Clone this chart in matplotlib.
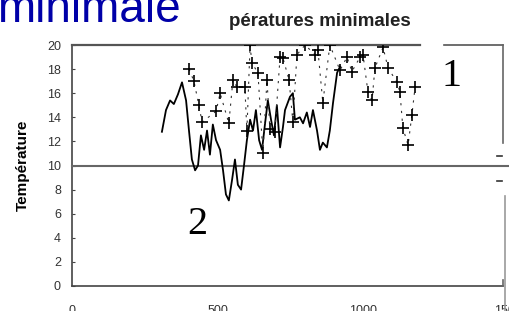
import numpy as np
import matplotlib
matplotlib.use('Agg')
import matplotlib.pyplot as plt

# solid series (jour, temperature)
line_x = [309, 323, 337, 350, 364, 378, 392, 402, 412, 423, 433, 443, 454, 464, 474, 484,
          495, 509, 519, 529, 539, 550, 560, 570, 581, 591, 601, 612, 622, 632, 643, 653,
          663, 673, 684, 694, 704, 715, 725, 732, 749, 759, 766, 783, 794, 807, 818, 828,
          842, 852, 862, 876, 886, 897, 911, 921]
line_y = [12.8, 14.6, 15.4, 15.1, 15.9, 16.9, 15.4, 12.9, 10.5, 9.6, 10.0, 12.5, 11.3, 12.9,
          10.9, 13.4, 12.1, 11.3, 9.6, 7.6, 7.1, 8.8, 10.5, 8.4, 8.0, 10.0, 12.1, 13.8, 12.9,
          14.6, 12.1, 11.3, 13.4, 15.4, 13.8, 12.5, 15.0, 11.5, 13.2, 14.6, 15.7, 16.0, 13.8,
          14.0, 13.5, 14.4, 13.2, 14.6, 12.9, 11.3, 11.9, 11.5, 12.9, 15.2, 17.7, 18.2]

# "+" series
plus_x = [402, 419, 436, 447, 495, 509, 539, 553, 567, 594, 601, 612, 618, 639, 656, 670,
          680, 697, 715, 725, 746, 759, 773, 801, 835, 845, 862, 886, 921, 945, 962, 990,
          1000, 1017, 1031, 1041, 1069, 1086, 1117, 1127, 1137, 1155, 1168, 1179]
plus_y = [18.0, 17.0, 15.0, 13.6, 14.5, 16.0, 13.5, 17.1, 16.5, 16.5, 12.9, 20.0, 18.5, 17.7,
          11.0, 17.1, 13.0, 12.8, 19.0, 18.9, 17.1, 13.6, 19.2, 20.0, 19.2, 19.6, 15.2, 20.0,
          17.9, 19.0, 17.8, 19.0, 19.2, 16.1, 15.4, 18.1, 19.8, 18.1, 16.9, 16.1, 13.1, 11.7,
          14.2, 16.5]

yticks = list(range(0, 21, 2))
xticks = [0, 500, 1000, 1500]

fig = plt.figure(figsize=(5.1, 3.11), dpi=100)
ax = fig.add_axes([72 / 510, 25 / 311, 436.5 / 510, 241 / 311])
ax.set_xlim(0, 1500)
ax.set_ylim(0, 20)
for s in ax.spines.values():
    s.set_visible(False)
ax.patch.set_alpha(0)

# frame pieces (scanned figure, partly broken)
ax.plot([0, 0], [0, 20], color='#444', lw=1.2, clip_on=False)
ax.plot([0, 1196], [20, 20], color='#555', lw=1.6, clip_on=False)
ax.plot([1278, 1481], [20, 20], color='#555', lw=1.2, clip_on=False)
ax.plot([1481, 1481], [20, 11.9], color='#666', lw=1.2, clip_on=False)
ax.plot([1460, 1478], [10.8, 10.8], color='#333', lw=1.2, clip_on=False)
ax.plot([1460, 1478], [8.7, 8.7], color='#333', lw=1.2, clip_on=False)
ax.plot([1488, 1488], [7.5, -2.2], color='#999', lw=1.2, clip_on=False)
ax.plot([0, 1481], [0, 0], color='#444', lw=1.2, clip_on=False)
ax.plot([1481, 1481], [0, 0.5], color='#666', lw=1.2, clip_on=False)
ax.plot([0, 1510], [10, 10], color='#666', lw=1.5, clip_on=False)

ax.plot(line_x, line_y, color='black', lw=1.3)
ax.plot(plus_x, plus_y, color='#333', lw=0.8, ls=(0, (2, 5)))
ax.plot(plus_x, plus_y, color='black', lw=0, marker='+', ms=8, mew=1.2)

ax.set_yticks(yticks)
ax.set_xticks(xticks)
ax.set_xticklabels([str(t) for t in xticks])
ax.tick_params(axis='y', direction='in', length=2, pad=8, labelsize=9,
               labelcolor='#333', color='#444')
ax.tick_params(axis='x', length=0, pad=14, labelsize=9, labelcolor='#333')
for lab in ax.get_xticklabels() + ax.get_yticklabels():
    lab.set_fontfamily('Liberation Sans')

ax.set_ylabel('Température', fontsize=11, fontweight='bold',
              family='Liberation Sans', labelpad=12)

fig.text(320 / 510, 1 - 22 / 311, 'pératures minimales', ha='center', va='center',
         fontsize=13.5, fontweight='bold', family='Liberation Sans', color='#222')
fig.text(-3 / 510, 1 - 22 / 311, 'minimale', ha='left', va='baseline',
         fontsize=33, family='Liberation Sans', color='#0000A8')
fig.text(452 / 510, 1 - 76 / 311, '1', ha='center', va='center',
         fontsize=29, family='Liberation Serif', color='black')
fig.text(197 / 510, 1 - 224 / 311, '2', ha='center', va='center',
         fontsize=29, family='Liberation Serif', color='black')

fig.savefig('out.png', dpi=100)
